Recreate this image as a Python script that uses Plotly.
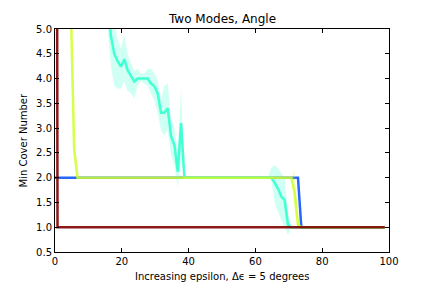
import plotly.graph_objects as go

# x positions of the 100 epsilon steps
x_vals = [i - 0.25 for i in range(100)]

# Series values (mean min cover number)
blue_vals = [2.0] * 74 + [1.0] * 26
red_vals = [40.0] + [1.0] * 99
yellow_vals = [8.0] * 5 + [5.4, 2.56] + [2.0] * 65 + [1.7, 1.05] + [1.0] * 26
cyan_vals = ([7.0] * 16 +
             [5.6, 4.85, 4.5, 4.35, 4.24, 4.39, 4.17, 4.05, 3.94, 4.0,
              4.0, 4.0, 4.0, 3.9, 3.85, 3.7, 3.31, 3.31, 3.4, 2.83,
              2.66, 2.12, 3.1] +
             [2.0] * 27 +
             [1.9, 1.78, 1.62, 1.55, 1.05] +
             [1.0] * 29)
cyan_upper = ([7.0] * 16 +
              [6.2, 5.4, 5.1, 4.8, 4.6, 4.88, 4.5, 4.3, 4.15, 4.2,
               4.1, 4.1, 4.2, 4.2, 4.1, 3.95, 3.6, 3.85, 3.9, 3.2,
               3.0, 2.5, 3.8] +
              [2.0] * 26 + [2.2] +
              [2.25, 2.2, 2.1, 2.0, 1.3] +
              [1.0] * 29)
cyan_lower = ([7.0] * 16 +
              [5.0, 4.25, 3.85, 3.8, 3.8, 3.95, 3.75, 3.7, 3.6, 3.85,
               3.95, 3.9, 3.85, 3.7, 3.55, 3.3, 2.95, 2.85, 2.95, 2.45,
               2.25, 1.8, 2.35] +
              [2.0] * 26 + [1.95] +
              [1.5, 1.3, 1.15, 1.0, 0.85] +
              [1.0] * 29)
yellow_upper = [8.0] * 5 + [5.4, 2.56] + [2.0] * 65 + [2.15, 1.2] + [1.0] * 26
yellow_lower = [8.0] * 5 + [5.4, 2.56] + [2.0] * 65 + [1.35, 1.0] + [1.0] * 26

x_ticks = [0, 20, 40, 60, 80, 100]
y_ticks = [0.5, 1.0, 1.5, 2.0, 2.5, 3.0, 3.5, 4.0, 4.5, 5.0]
y_tick_text = ["0.5", "1.0", "1.5", "2.0", "2.5", "3.0", "3.5", "4.0", "4.5", "5.0"]

FONT = "DejaVu Sans"

fig = go.Figure()


def band(xs, up, lo, rgb):
    fig.add_trace(go.Scatter(
        x=list(xs) + list(xs)[::-1],
        y=list(up) + list(lo)[::-1],
        fill="toself", mode="lines", line=dict(width=0),
        fillcolor=f"rgba({rgb},0.22)", hoverinfo="skip", showlegend=False))


def line(ys, rgb, alpha=0.85):
    fig.add_trace(go.Scatter(
        x=x_vals, y=ys, mode="lines",
        line=dict(color=f"rgba({rgb},{alpha})", width=2.5),
        showlegend=False))


BLUE = "0,76,255"
CYAN = "41,255,206"
YELLOW = "206,255,41"
RED = "128,0,0"

line(blue_vals, BLUE)
band(x_vals, cyan_upper, cyan_lower, CYAN)
line(cyan_vals, CYAN)
band(x_vals, yellow_upper, yellow_lower, YELLOW)
line(yellow_vals, YELLOW)
line(red_vals, RED, 0.9)

axis_common = dict(
    showline=True, linecolor="black", linewidth=1, mirror="ticks",
    ticks="inside", ticklen=4, tickcolor="black", tickwidth=1,
    showgrid=False, zeroline=False,
    tickfont=dict(family=FONT, size=10, color="black"),
)

fig.update_xaxes(range=[0, 100], tickvals=x_ticks, **axis_common)
fig.update_yaxes(range=[0.5, 5.0], tickvals=y_ticks, ticktext=y_tick_text, **axis_common)

fig.update_layout(
    width=432, height=288, autosize=False,
    margin=dict(l=55, r=43, t=29, b=36),
    paper_bgcolor="white", plot_bgcolor="white",
    font=dict(family=FONT, color="black"),
    annotations=[
        dict(text="Two Modes, Angle", xref="paper", yref="paper",
             x=0.5, y=1.043, xanchor="center", yanchor="middle",
             showarrow=False, font=dict(family=FONT, size=12, color="black")),
        dict(text="Increasing epsilon, Δϵ = 5 degrees", xref="paper", yref="paper",
             x=0.5, y=-0.112, xanchor="center", yanchor="middle",
             showarrow=False, font=dict(family=FONT, size=10, color="black")),
        dict(text="Min Cover Number", xref="paper", yref="paper",
             x=-0.093, y=0.5, xanchor="center", yanchor="middle", textangle=-90,
             showarrow=False, font=dict(family=FONT, size=10, color="black")),
    ],
)

fig.write_html("out.html", config={"displayModeBar": False},
               post_script="document.body.style.margin='0';")
